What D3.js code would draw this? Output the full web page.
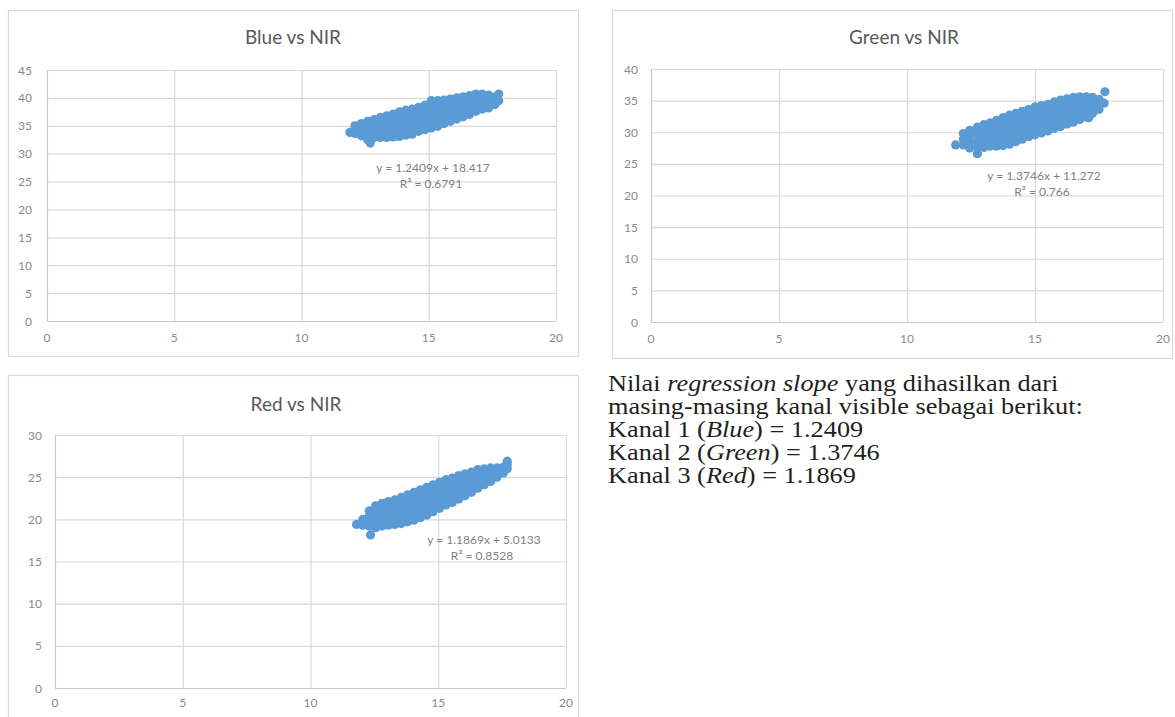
<!DOCTYPE html>
<html>
<head>
<meta charset="utf-8">
<script src="https://cdn.jsdelivr.net/npm/d3@7"></script>
<style>
  html, body { margin: 0; padding: 0; background: #ffffff; }
  svg { display: block; }
</style>
</head>
<body>
<svg id="fig" width="1175" height="717"></svg>
<script>
// ---------------- DATA ----------------
const xTicks = [0, 5, 10, 15, 20];
const blueYTicks = [0, 5, 10, 15, 20, 25, 30, 35, 40, 45];
const greenYTicks = [0, 5, 10, 15, 20, 25, 30, 35, 40];
const redYTicks = [0, 5, 10, 15, 20, 25, 30];

const chartTitles = ["Blue vs NIR", "Green vs NIR", "Red vs NIR"];
const equations = ["y = 1.2409x + 18.417", "y = 1.3746x + 11.272", "y = 1.1869x + 5.0133"];
const rSquared = ["R\u00B2 = 0.6791", "R\u00B2 = 0.766", "R\u00B2 = 0.8528"];

const blueColumns = [
  [11.9, [33.8]],
  [12.1, [33.6, 34.4, 35.0]],
  [12.35, [33.2, 34.0, 34.8, 35.4]],
  [12.6, [32.5, 33.4, 34.3, 35.1, 35.8]],
  [12.7, [31.9]],
  [12.85, [32.9, 33.8, 34.6, 35.4, 36.1]],
  [13.1, [32.9, 33.8, 34.7, 35.6, 36.5]],
  [13.35, [32.9, 33.9, 34.9, 35.9, 36.8]],
  [13.6, [33.0, 34.0, 35.0, 36.1, 37.1]],
  [13.85, [33.1, 34.2, 35.3, 36.4, 37.5]],
  [14.1, [33.3, 34.4, 35.5, 36.7, 37.8]],
  [14.35, [33.5, 34.6, 35.7, 36.9, 38.0]],
  [14.6, [34.0, 35.1, 36.2, 37.2, 38.3]],
  [14.85, [34.3, 35.4, 36.5, 37.6, 38.7]],
  [15.1, [34.6, 35.8, 37.0, 38.3, 39.5]],
  [15.35, [34.9, 36.1, 37.3, 38.4, 39.5]],
  [15.6, [35.4, 36.5, 37.5, 38.6, 39.6]],
  [15.85, [35.8, 36.8, 37.8, 38.8, 39.8]],
  [16.1, [36.2, 37.2, 38.1, 39.1, 40.0]],
  [16.35, [36.6, 37.5, 38.4, 39.3, 40.2]],
  [16.6, [37.0, 37.9, 38.7, 39.6, 40.4]],
  [16.85, [37.6, 38.4, 39.1, 39.9, 40.7]],
  [17.1, [38.0, 38.9, 39.8, 40.7]],
  [17.35, [38.2, 39.0, 39.8, 40.5]],
  [17.6, [38.8, 39.5, 40.2]],
  [17.75, [39.5, 40.7]]
];

const greenColumns = [
  [11.9, [28.0]],
  [12.2, [28.0, 28.9, 29.8]],
  [12.45, [27.5, 28.4, 29.4, 30.3]],
  [12.75, [26.6, 27.6, 28.6, 29.7, 30.8]],
  [13.0, [27.6, 28.5, 29.4, 30.3, 31.2]],
  [13.25, [27.8, 28.7, 29.6, 30.6, 31.5]],
  [13.5, [27.8, 28.8, 29.8, 30.9, 31.9]],
  [13.75, [27.9, 29.0, 30.1, 31.2, 32.3]],
  [14.0, [28.1, 29.2, 30.4, 31.5, 32.7]],
  [14.25, [28.5, 29.6, 30.7, 31.9, 33.0]],
  [14.5, [28.9, 30.0, 31.1, 32.2, 33.3]],
  [14.75, [29.3, 30.4, 31.5, 32.5, 33.6]],
  [15.0, [29.6, 30.7, 31.8, 32.9, 34.0]],
  [15.25, [29.9, 31.0, 32.1, 33.1, 34.2]],
  [15.5, [30.2, 31.3, 32.3, 33.4, 34.4]],
  [15.75, [30.6, 31.6, 32.7, 33.7, 34.8]],
  [16.0, [30.9, 31.9, 33.0, 34.0, 35.1]],
  [16.25, [31.3, 32.3, 33.3, 34.3, 35.3]],
  [16.5, [31.6, 32.6, 33.6, 34.5, 35.5]],
  [16.75, [32.0, 32.9, 33.8, 34.7, 35.6]],
  [17.0, [32.4, 33.2, 34.0, 34.8, 35.6]],
  [17.1, [32.3]],
  [17.25, [33.0, 33.8, 34.7, 35.5]],
  [17.5, [33.6, 34.4, 35.2]],
  [17.7, [34.6]],
  [17.73, [36.4]]
];

const redColumns = [
  [11.8, [19.4]],
  [12.05, [19.3, 20.0]],
  [12.3, [19.2, 19.8, 20.4, 21.0]],
  [12.35, [18.15]],
  [12.55, [19.0, 19.7, 20.3, 21.0, 21.6]],
  [12.8, [19.2, 19.9, 20.6, 21.2, 21.9]],
  [13.05, [19.3, 20.0, 20.7, 21.4, 22.1]],
  [13.3, [19.4, 20.1, 20.9, 21.6, 22.3]],
  [13.55, [19.5, 20.3, 21.1, 21.8, 22.6]],
  [13.8, [19.7, 20.5, 21.3, 22.1, 22.9]],
  [14.05, [19.9, 20.7, 21.6, 22.4, 23.2]],
  [14.3, [20.2, 21.0, 21.9, 22.7, 23.5]],
  [14.55, [20.5, 21.3, 22.2, 23.0, 23.8]],
  [14.8, [20.9, 21.7, 22.5, 23.3, 24.1]],
  [15.05, [21.3, 22.1, 22.9, 23.6, 24.4]],
  [15.3, [21.7, 22.5, 23.2, 24.0, 24.7]],
  [15.55, [22.0, 22.7, 23.5, 24.2, 24.9]],
  [15.8, [22.4, 23.1, 23.8, 24.5, 25.2]],
  [16.05, [22.8, 23.5, 24.1, 24.8, 25.4]],
  [16.3, [23.2, 23.8, 24.4, 25.0, 25.6]],
  [16.55, [23.7, 24.3, 24.8, 25.4, 25.9]],
  [16.8, [24.1, 24.7, 25.4, 26.0]],
  [17.05, [24.5, 25.1, 25.6, 26.1]],
  [17.3, [25.0, 25.6, 26.1]],
  [17.55, [25.5, 25.9, 26.2]],
  [17.7, [26.0, 26.5, 26.9]]
];

const bodyLines = [
  [{t: "Nilai ", i: false}, {t: "regression slope", i: true}, {t: " yang dihasilkan dari", i: false}],
  [{t: "masing-masing kanal visible sebagai berikut:", i: false}],
  [{t: "Kanal 1 (", i: false}, {t: "Blue", i: true}, {t: ") = 1.2409", i: false}],
  [{t: "Kanal 2 (", i: false}, {t: "Green", i: true}, {t: ") = 1.3746", i: false}],
  [{t: "Kanal 3 (", i: false}, {t: "Red", i: true}, {t: ") = 1.1869", i: false}]
];

// ---------------- DRAWING ----------------
const svg = d3.select("#fig");
const FONT = "Lato, 'Open Sans', 'Liberation Sans', sans-serif";

function flatten(cols) {
  const pts = [];
  cols.forEach(c => c[1].forEach(y => pts.push([c[0], y])));
  return pts;
}

function drawChart(cfg) {
  const g = svg.append("g");
  g.append("rect")
    .attr("x", cfg.frame[0]).attr("y", cfg.frame[1])
    .attr("width", cfg.frame[2]).attr("height", cfg.frame[3])
    .attr("fill", "#ffffff").attr("stroke", "#d9d9d9").attr("stroke-width", 1.2);

  const x = d3.scaleLinear().domain([0, 20]).range([cfg.left, cfg.right]);
  const y = d3.scaleLinear().domain([0, d3.max(cfg.yTicks)]).range([cfg.bottom, cfg.top]);

  const yAxis = d3.axisLeft(y).tickValues(cfg.yTicks).tickSize(-(cfg.right - cfg.left)).tickFormat("");
  const yg = g.append("g").attr("transform", `translate(${cfg.left},0)`).call(yAxis);
  yg.select(".domain").remove();
  yg.selectAll("line").attr("stroke", d => d === 0 ? "#c8c8c8" : "#d9d9d9").attr("stroke-width", 1.2);

  const xAxis = d3.axisBottom(x).tickValues(xTicks).tickSize(-(cfg.bottom - cfg.top)).tickFormat("");
  const xg = g.append("g").attr("transform", `translate(0,${cfg.bottom})`).call(xAxis);
  xg.select(".domain").remove();
  xg.selectAll("line").attr("stroke", d => d === 0 ? "#c8c8c8" : "#d9d9d9").attr("stroke-width", 1.2);

  g.selectAll(".ylab").data(cfg.yTicks).enter().append("text")
    .attr("x", cfg.labelRight).attr("y", d => y(d) + 4.5)
    .attr("text-anchor", "end").attr("font-family", FONT).attr("font-size", 12)
    .attr("fill", "#8a8a8a").text(d => d);
  g.selectAll(".xlab").data(xTicks).enter().append("text")
    .attr("x", d => x(d)).attr("y", cfg.xLabelY)
    .attr("text-anchor", "middle").attr("font-family", FONT).attr("font-size", 12)
    .attr("fill", "#8a8a8a").text(d => d);

  g.append("text").attr("x", cfg.titleX).attr("y", cfg.titleY)
    .attr("text-anchor", "middle").attr("font-family", FONT).attr("font-size", 19)
    .attr("fill", "#595959").text(cfg.title);

  g.selectAll(".pt").data(cfg.points).enter().append("circle")
    .attr("cx", d => x(d[0])).attr("cy", d => y(d[1])).attr("r", 4.6)
    .attr("fill", "#5b9bd5");

  g.append("text").attr("x", cfg.eqX).attr("y", cfg.eqY)
    .attr("text-anchor", "middle").attr("font-family", FONT).attr("font-size", 12)
    .attr("fill", "#7f7f7f").text(cfg.eq);
  g.append("text").attr("x", cfg.eqX - 2).attr("y", cfg.eqY + 16)
    .attr("text-anchor", "middle").attr("font-family", FONT).attr("font-size", 12)
    .attr("fill", "#7f7f7f").text(cfg.r2);
}

drawChart({
  frame: [8.5, 10.5, 570, 346], left: 47, right: 556, top: 70, bottom: 321,
  yTicks: blueYTicks, labelRight: 32, xLabelY: 342,
  title: chartTitles[0], titleX: 293, titleY: 44,
  points: flatten(blueColumns), eq: equations[0], r2: rSquared[0], eqX: 433, eqY: 172
});
drawChart({
  frame: [612.5, 10.5, 560, 348], left: 651, right: 1163, top: 69, bottom: 322,
  yTicks: greenYTicks, labelRight: 638, xLabelY: 343,
  title: chartTitles[1], titleX: 904, titleY: 44,
  points: flatten(greenColumns), eq: equations[1], r2: rSquared[1], eqX: 1044, eqY: 180
});
drawChart({
  frame: [8.5, 375.5, 570, 360], left: 55, right: 566, top: 435, bottom: 688,
  yTicks: redYTicks, labelRight: 42, xLabelY: 707,
  title: chartTitles[2], titleX: 296, titleY: 411,
  points: flatten(redColumns), eq: equations[2], r2: rSquared[2], eqX: 484, eqY: 544
});

// body text: one text block, one tspan row per line
const tb = svg.append("g").attr("transform", "translate(608,391) scale(1.12,1)");
const block = tb.append("text").attr("x", 0).attr("y", 0)
  .attr("font-family", "'Liberation Serif', 'DejaVu Serif', serif")
  .attr("font-size", 23.5).attr("fill", "#231f20");
bodyLines.forEach((line, i) => {
  line.forEach((seg, j) => {
    const ts = block.append("tspan").attr("font-style", seg.i ? "italic" : "normal").text(seg.t);
    if (j === 0) ts.attr("x", 0).attr("y", i * 23);
  });
});
</script>
</body>
</html>
